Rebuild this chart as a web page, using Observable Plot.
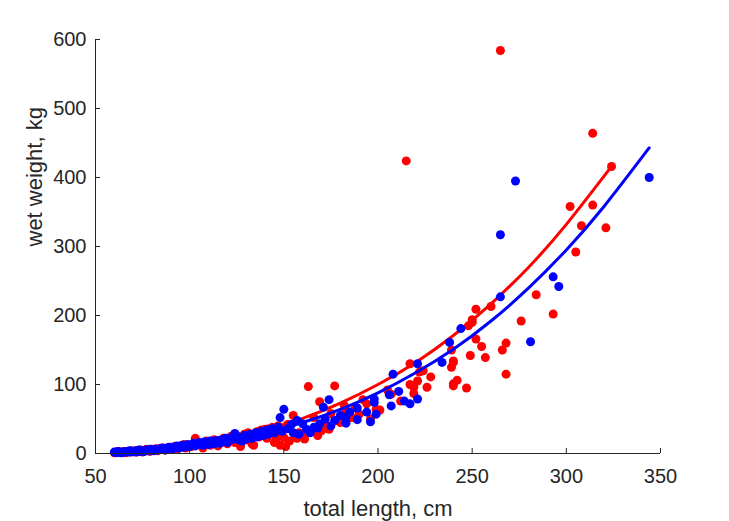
<!DOCTYPE html>
<html>
<head>
<meta charset="utf-8">
<script src="https://cdn.jsdelivr.net/npm/d3@7"></script>
<script src="https://cdn.jsdelivr.net/npm/@observablehq/plot@0.6"></script>
<style>
  html, body { margin: 0; padding: 0; background: #ffffff; }
  #chart { width: 729px; height: 521px; overflow: hidden; }
</style>
</head>
<body>
<div id="chart"></div>
<script>
// ---- data ----
const xLabel = "total length, cm";
const yLabel = "wet weight, kg";
const xTicks = [50, 100, 150, 200, 250, 300, 350];
const yTicks = [0, 100, 200, 300, 400, 500, 600];

// red series: [total length, wet weight]
const redPoints = [
  [60,1],[61,2],[62,3],[63,1],[64,2],[65,3],[66,1],[67,3],[68,2],[69,4],[70,3],[71,2],[72,4],[73,3],[74,5],
  [75,2],[76,4],[77,6],[78,5],[79,3],[80,6],[81,5],[82,7],[83,4],[84,6],[85,8],[86,6],[87,5],[88,8],[89,7],
  [90,9],[91,6],[92,10],[93,8],[94,7],[95,11],[96,9],[97,13],[98,8],[99,12],[100,11],[101,10],[102,14],[103,22],
  [104,13],[105,16],[106,12],[107,8],[108,15],[109,18],[110,14],[111,12],[112,17],[113,20],[114,15],[115,11],
  [116,19],[117,16],[118,22],[119,18],[120,14],[121,21],[122,25],[123,19],[124,16],[125,26],[126,22],[127,10],
  [128,24],[129,28],[130,20],[131,30],[132,26],[133,14],[134,12],[135,28],[136,32],[137,24],[138,34],[139,29],
  [140,35],[141,22],[142,36],[143,31],[144,38],[145,16],[146,22],[147,40],[148,12],[149,30],[150,23],[151,10],
  [152,42],[153,18],[155,55],[156,26],[157,22],[158,30],[160,24],[161,21],[163,97],[165,33],[166,52],
  [168,26],[169,75],[170,33],[172,42],[174,35],[175,58],[177,98],[178,48],[180,45],[182,70],[183,62],[186,52],
  [188,66],[190,57],[192,78],[194,72],[196,50],[199,64],[201,63],[205,92],[207,86],[212,76],[215,424],[217,130],
  [217,100],[219,96],[219,87],[221,105],[222,118],[224,120],[226,96],[228,111],[239,150],[240,134],[239,125],
  [240,132],[240,101],[242,106],[240,98],[247,95],[249,142],[252,166],[248,185],[250,190],[250,194],[252,209],
  [255,155],[257,139],[260,213],[265,584],[266,150],[268,160],[268,115],[276,192],[284,230],[293,202],
  [302,358],[305,292],[308,330],[314,360],[314,464],[321,327],[324,416]
];

// blue series: [total length, wet weight]
const bluePoints = [
  [60,2],[61,1],[62,3],[63,2],[64,1],[65,2],[66,3],[67,2],[68,4],[69,2],[70,3],[71,4],[72,2],[73,5],[74,3],
  [75,4],[76,3],[77,5],[78,4],[79,6],[80,5],[81,4],[82,6],[83,5],[84,7],[85,6],[86,8],[87,5],[88,7],[89,9],
  [90,8],[91,7],[92,9],[93,11],[94,8],[95,10],[96,12],[97,9],[98,11],[99,13],[100,10],[101,12],[102,15],[103,11],
  [104,13],[105,16],[106,14],[107,12],[108,17],[109,15],[110,13],[111,18],[112,16],[113,14],[114,19],[115,17],
  [116,15],[117,20],[118,18],[119,22],[120,16],[121,19],[122,23],[123,21],[124,29],[125,25],[126,20],[127,23],
  [128,18],[129,26],[130,21],[131,24],[132,28],[133,22],[134,26],[135,30],[136,24],[137,28],[138,32],[139,26],
  [140,30],[141,34],[142,28],[143,33],[144,36],[145,30],[146,34],[147,38],[148,52],[149,32],[150,64],
  [152,36],[154,42],[155,30],[157,48],[158,28],[160,43],[162,35],[164,30],[166,38],[168,37],[169,43],[171,67],
  [172,50],[174,78],[175,40],[177,48],[180,55],[183,52],[183,44],[185,60],[189,66],[189,49],[194,60],[196,46],
  [198,79],[198,74],[199,57],[206,85],[207,69],[208,115],[211,90],[214,76],[217,72],[221,79],[221,130],
  [234,132],[238,161],[244,181],[265,227],[265,317],[273,395],[281,162],[293,256],[296,242],[344,400]
];

// fitted curves at regular lengths
const redFit = [
  [60,2.8],[80,6.5],[100,12.7],[120,21.9],[140,34.5],[160,51],[180,73],[200,100],[220,132],[240,171],
  [260,217],[280,270],[300,332],[324,416]
];
const blueFit = [
  [60,2.4],[80,5.7],[100,11.1],[120,19.1],[140,30.2],[160,45],[180,64],[200,88],[220,117],[240,151],
  [260,192],[280,240],[300,295],[320,358],[344,443]
];

const ink = "#262626";
const font = "'Liberation Sans', Arial, Helvetica, sans-serif";

const chart = Plot.plot({
  width: 729,
  height: 521,
  marginLeft: 95,
  marginRight: 69,
  marginTop: 39,
  marginBottom: 68,
  style: { fontFamily: font, fontSize: "20px", color: ink, background: "#ffffff", overflow: "visible" },
  x: { domain: [xTicks[0], xTicks[xTicks.length - 1]], label: null },
  y: { domain: [yTicks[0], yTicks[yTicks.length - 1]], label: null },
  marks: [
    Plot.dot(redPoints, { x: d => d[0], y: d => d[1], r: 4.5, fill: "#ff0000", stroke: "none" }),
    Plot.line(redFit, { x: d => d[0], y: d => d[1], stroke: "#ff0000", strokeWidth: 3, curve: "natural" }),
    Plot.dot(bluePoints, { x: d => d[0], y: d => d[1], r: 4.5, fill: "#0000ff", stroke: "none" }),
    Plot.line(blueFit, { x: d => d[0], y: d => d[1], stroke: "#0000ff", strokeWidth: 3, curve: "natural" }),
    Plot.ruleX([xTicks[0]], { stroke: ink, strokeWidth: 1 }),
    Plot.ruleY([yTicks[0]], { stroke: ink, strokeWidth: 1 }),
    Plot.axisX({ ticks: xTicks, tickSize: -5, tickPadding: 20, stroke: ink, fill: ink, fontSize: 20, label: null }),
    Plot.axisY({ ticks: yTicks, tickSize: -5, tickPadding: 14, stroke: ink, fill: ink, fontSize: 20, label: null }),
    Plot.text([xLabel], { frameAnchor: "bottom", dy: 55, text: d => d, fontSize: 22, fill: ink, lineAnchor: "middle" }),
    Plot.text([yLabel], { frameAnchor: "left", dx: -61, rotate: -90, text: d => d, fontSize: 22, fill: ink, lineAnchor: "middle" })
  ]
});
document.getElementById("chart").appendChild(chart);
</script>
</body>
</html>
